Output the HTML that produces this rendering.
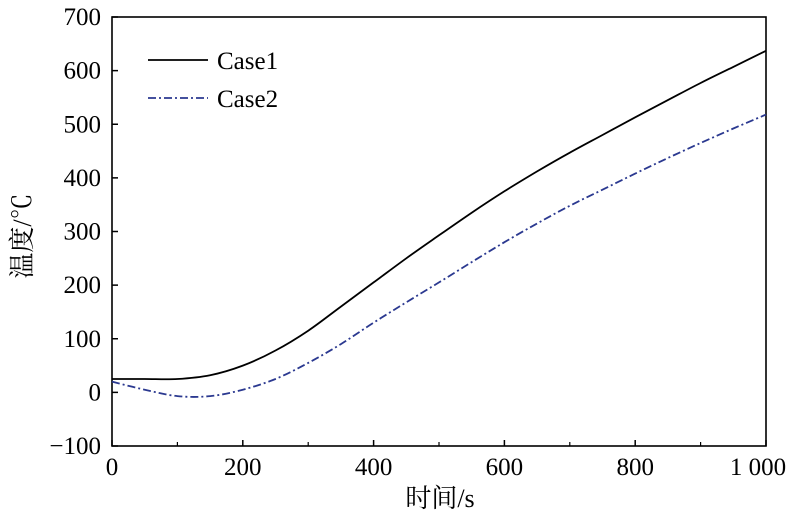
<!DOCTYPE html>
<html><head><meta charset="utf-8"><style>
body{margin:0;background:#fff}
svg text{font-family:"Liberation Serif","Noto Serif CJK SC",serif;fill:#000}
</style></head><body>
<svg width="800" height="527" viewBox="0 0 800 527" xmlns="http://www.w3.org/2000/svg">
<g id="axes"></g>
<g id="series"></g>
</svg>
<script>
const xTicks=[0,200,400,600,800,1000];
const xTickLabels=["0","200","400","600","800","1 000"];
const yTicks=[-100,0,100,200,300,400,500,600,700];
const times=[0,50,100,150,200,250,300,350,400,450,500,550,600,650,700,750,800,850,900,950,1000];
const case1=[25,25,25,32,50,78,115,160,205,250,293,335,375,412,447,480,513,545,577,607,637];
const case2=[20,5,-7,-7,5,25,55,90,130,168,205,243,280,315,348,378,408,437,465,492,518];
const L=112,R=766,T=17,B=446;
const xs=v=>L+(v-0)/1000*(R-L);
const ys=v=>B-(v+100)/800*(B-T);
const NS="http://www.w3.org/2000/svg";
const ax=document.getElementById('axes'),se=document.getElementById('series');
function mk(tag,attrs,parent,txt){const e=document.createElementNS(NS,tag);for(const k in attrs)e.setAttribute(k,attrs[k]);if(txt!==undefined)e.textContent=txt;parent.appendChild(e);return e;}
let f=mk('rect',{x:L,y:T,width:R-L,height:B-T,fill:'none',stroke:'#000','stroke-width':1.6},ax);


xTicks.forEach((v,i)=>{
 let t=mk('line',{x1:xs(v),x2:xs(v),y1:B,y2:B-6,stroke:'#000','stroke-width':1.5},ax);
 
 
 let tx=mk('text',{x:xs(v)-(i==5?8:0),y:475,'text-anchor':'middle','font-size':25},ax,xTickLabels[i]);
 
 
});
for(let v=100;v<1000;v+=200){let t=mk('line',{x1:xs(v),x2:xs(v),y1:B,y2:B-4,stroke:'#000','stroke-width':1.2},ax);
 
 }
yTicks.forEach(v=>{
 let t=mk('line',{x1:L,x2:L+6,y1:ys(v),y2:ys(v),stroke:'#000','stroke-width':1.5},ax);
 
 
 let tx=mk('text',{x:101,y:ys(v)+8,'text-anchor':'end','font-size':25},ax,v<0?'−'+(-v):String(v));
 
 
});
let xt=mk('text',{x:440,y:507,'text-anchor':'middle','font-size':26},ax,'时间/s');


let yt=mk('text',{x:0,y:0,'text-anchor':'middle','font-size':26,transform:'translate(31,236) rotate(-90)'},ax,'温度/℃');


function path(arr){
 const P=times.map((t,i)=>[xs(t),ys(arr[i])]);
 let d='M'+P[0][0].toFixed(1)+','+P[0][1].toFixed(1);
 for(let i=0;i<P.length-1;i++){
  const p0=P[Math.max(0,i-1)],p1=P[i],p2=P[i+1],p3=P[Math.min(P.length-1,i+2)];
  const c1=[p1[0]+(p2[0]-p0[0])/6,p1[1]+(p2[1]-p0[1])/6];
  const c2=[p2[0]-(p3[0]-p1[0])/6,p2[1]-(p3[1]-p1[1])/6];
  d+='C'+c1[0].toFixed(1)+','+c1[1].toFixed(1)+' '+c2[0].toFixed(1)+','+c2[1].toFixed(1)+' '+p2[0].toFixed(1)+','+p2[1].toFixed(1);
 }
 return d;
}
let p1=mk('path',{d:path(case1),fill:'none',stroke:'#000','stroke-width':1.8},se);


let p2=mk('path',{d:path(case2),fill:'none',stroke:'#2b3990','stroke-width':1.8,'stroke-dasharray':'8,3,2,3'},se);


let l1=mk('line',{x1:148,x2:208,y1:60,y2:60,stroke:'#000','stroke-width':1.8},se);


let lt1=mk('text',{x:217,y:69,'font-size':25},se,'Case1');


let l2=mk('line',{x1:148,x2:208,y1:98,y2:98,stroke:'#2b3990','stroke-width':1.8,'stroke-dasharray':'8,3,2,3'},se);


let lt2=mk('text',{x:217,y:107,'font-size':25},se,'Case2');


</script>
</body></html>
